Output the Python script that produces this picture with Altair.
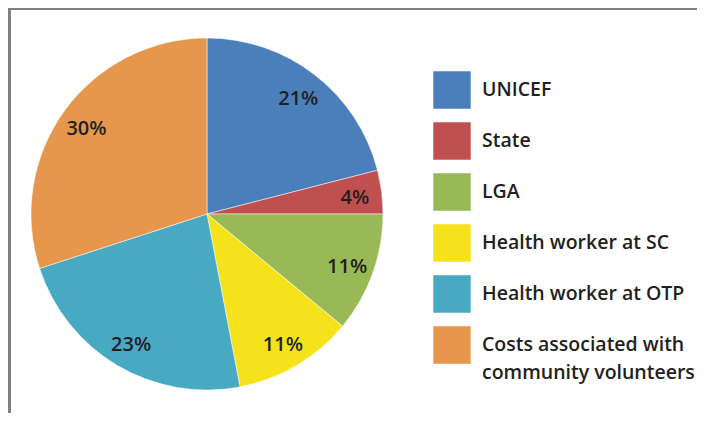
import altair as alt
import pandas as pd

categories = ["UNICEF", "State", "LGA", "Health worker at SC",
              "Health worker at OTP", "Costs associated with community volunteers"]
shares = [21, 4, 11, 11, 23, 30]
colors = ["#4a7fbc", "#c0504f", "#99b956", "#f6e21a", "#48a9c3", "#e6974c"]

df = pd.DataFrame({
    "category": categories,
    "share": shares,
    "order": list(range(len(categories))),
    "label": [f"{v}%" for v in shares],
})

FONT = "Open Sans"
CX, CY = 199, 206

base = alt.Chart(df).encode(
    theta=alt.Theta("share:Q", stack=True),
    order=alt.Order("order:Q"),
)

pie = base.mark_arc(outerRadius=176, stroke="#ffffff", strokeWidth=0.5).encode(
    x=alt.value(CX), y=alt.value(CY),
    color=alt.Color(
        "category:N",
        scale=alt.Scale(domain=categories, range=colors),
        sort=categories,
        legend=alt.Legend(
            title=None, orient="none", legendX=425, legendY=63,
            symbolType="square", symbolSize=1400, symbolStrokeWidth=0,
            symbolOpacity=1,
            labelFont=FONT, labelFontWeight=600, labelFontSize=19.5,
            labelColor="#231f20", labelLimit=300, labelOffset=11,
            rowPadding=13, padding=0,
            labelExpr="datum.label == 'Costs associated with community volunteers' ? ['Costs associated with', 'community volunteers'] : datum.label",
        ),
    ),
)

text = base.mark_text(radius=149, dy=3, font=FONT, fontWeight=600, fontSize=20,
                      color="#231f20").encode(
    x=alt.value(CX), y=alt.value(CY),
    text="label:N",
)

top_bar = alt.Chart(df).mark_rule(color="#808083", strokeWidth=4).encode(
    x=alt.value(0), x2=alt.value(689), y=alt.value(0))
left_bar = alt.Chart(df).mark_rule(color="#808083", strokeWidth=3).encode(
    x=alt.value(1), y=alt.value(0), y2=alt.value(405))

chart = alt.layer(top_bar, left_bar, pie, text).properties(
    width=689, height=405,
    autosize=alt.AutoSizeParams(type="none"),
    padding=0,
).configure_view(stroke=None).configure(
    background="#ffffff",
    style={"guide-label": {"lineHeight": 28}},
)

chart.save("out.html", embed_options={"renderer": "svg", "actions": False})
